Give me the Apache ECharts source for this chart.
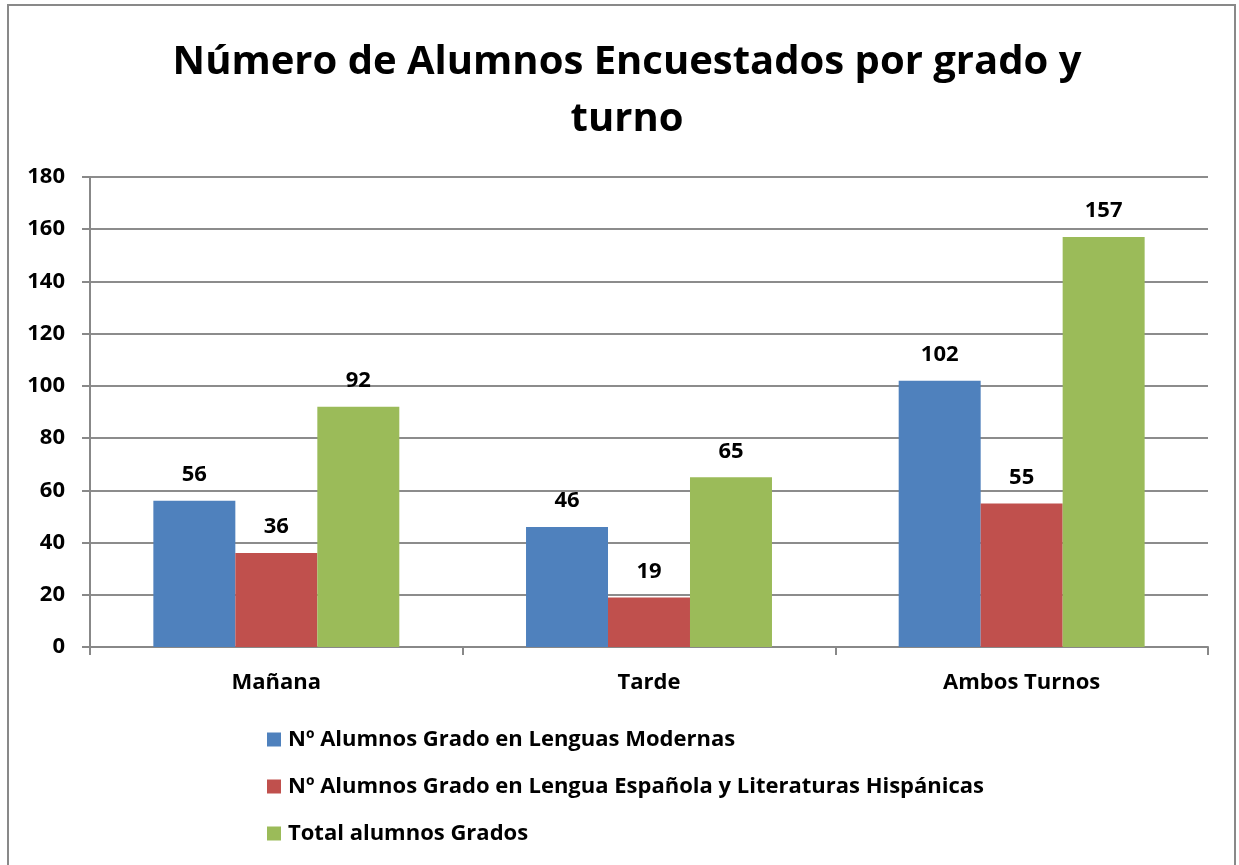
<!DOCTYPE html>
<html>
<head>
<meta charset="utf-8">
<script src="https://cdn.jsdelivr.net/npm/echarts@6/dist/echarts.min.js"></script>
<style>
    html, body { margin: 0; padding: 0; background: #fff; }
    #chart { width: 1239px; height: 865px; }
</style>
</head>
<body>
<div id="chart"></div>
<script>
const categories = ['Mañana', 'Tarde', 'Ambos Turnos'];
const seriesNames = [
    'Nº Alumnos Grado en Lenguas Modernas',
    'Nº Alumnos Grado en Lengua Española y Literaturas Hispánicas',
    'Total alumnos Grados'
];
const lenguasModernas = [56, 46, 102];
const lenguaEspanola = [36, 19, 55];
const totalGrados = [92, 65, 157];
const yTicks = [0, 20, 40, 60, 80, 100, 120, 140, 160, 180];

const colors = ['#4F81BD', '#C0504D', '#9BBB59'];
const FONT = '"Open Sans", sans-serif';

const chart = echarts.init(document.getElementById('chart'));

function barSeries(name, data, color) {
    return {
        name: name,
        type: 'bar',
        data: data,
        barGap: '0%',
        barCategoryGap: '34%',
        itemStyle: { color: color },
        label: {
            show: true,
            position: 'top',
            distance: 15,
            color: '#000',
            fontFamily: FONT,
            fontWeight: 'bold',
            fontSize: 22
        }
    };
}

const option = {
    backgroundColor: '#fff',
    animation: false,
    title: {
        text: 'Número de Alumnos Encuestados por grado y\nturno',
        left: 622,
        textAlign: 'center',
        top: 29,
        textStyle: {
            fontFamily: FONT,
            fontWeight: 'bold',
            fontSize: 40,
            lineHeight: 57,
            color: '#000'
        }
    },
    legend: {
        orient: 'vertical',
        left: 267,
        top: 727,
        padding: 0,
        itemWidth: 14,
        itemHeight: 14,
        itemGap: 22,
        icon: 'rect',
        textStyle: {
            fontFamily: FONT,
            fontWeight: 'bold',
            fontSize: 22,
            lineHeight: 25,
            color: '#000',
            padding: [0, 0, 0, 2]
        },
        data: seriesNames
    },
    graphic: [{
        type: 'rect',
        shape: { x: 8, y: 5, width: 1227, height: 900 },
        style: { fill: 'none', stroke: '#898989', lineWidth: 2 },
        silent: true
    }],
    grid: {
        left: 90,
        right: 31,
        top: 177,
        bottom: 218
    },
    xAxis: {
        type: 'category',
        data: categories,
        axisLine: { lineStyle: { color: '#888', width: 2 } },
        axisTick: { show: true, length: 8, lineStyle: { color: '#888', width: 2 } },
        axisLabel: {
            margin: 25,
            color: '#000',
            fontFamily: FONT,
            fontWeight: 'bold',
            fontSize: 22
        }
    },
    yAxis: {
        type: 'value',
        min: yTicks[0],
        max: yTicks[yTicks.length - 1],
        interval: 20,
        axisLine: { show: true, lineStyle: { color: '#888', width: 2 } },
        axisTick: { show: true, length: 8, lineStyle: { color: '#888', width: 2 } },
        splitLine: { lineStyle: { color: '#8c8c8c', width: 2 } },
        axisLabel: {
            margin: 25,
            color: '#000',
            fontFamily: FONT,
            fontWeight: 'bold',
            fontSize: 22
        }
    },
    series: [
        barSeries(seriesNames[0], lenguasModernas, colors[0]),
        barSeries(seriesNames[1], lenguaEspanola, colors[1]),
        barSeries(seriesNames[2], totalGrados, colors[2])
    ]
};

chart.setOption(option);
</script>
</body>
</html>
